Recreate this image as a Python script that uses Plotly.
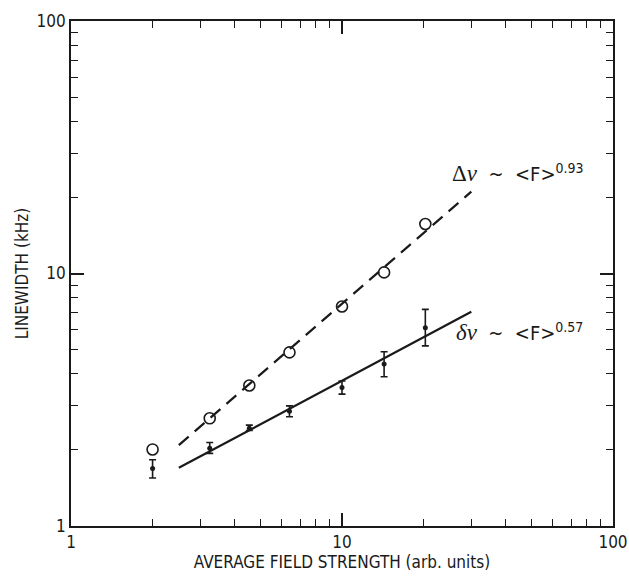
import plotly.graph_objects as go

# Average field strength (arb. units) for each measurement
field = [2.0, 3.25, 4.55, 6.4, 10.0, 14.3, 20.3]

# Open circles: total linewidth Δν (kHz)
delta_nu_total = [2.01, 2.67, 3.6, 4.87, 7.4, 10.1, 15.7]

# Filled points: homogeneous linewidth δν (kHz) with asymmetric error bars
delta_nu_hom = [1.69, 2.03, 2.44, 2.85, 3.54, 4.38, 6.10]
err_plus = [0.14, 0.11, 0.07, 0.14, 0.21, 0.52, 1.11]
err_minus = [0.14, 0.09, 0.05, 0.14, 0.21, 0.48, 0.93]

# Power-law fit lines (end points)
fit_x = [2.5, 30.0]
fit_total = [2.09, 21.1]
fit_hom = [1.70, 7.05]

FONT = "DejaVu Sans Condensed, Liberation Sans Narrow, sans-serif"
SERIF = "Liberation Serif, DejaVu Serif, serif"
INK = "#1a1a1a"

fig = go.Figure()

fig.add_trace(go.Scatter(
    x=fit_x, y=fit_total, mode="lines",
    line=dict(color=INK, width=2.2, dash="13px,8px"),
    showlegend=False, hoverinfo="skip",
))
fig.add_trace(go.Scatter(
    x=fit_x, y=fit_hom, mode="lines",
    line=dict(color=INK, width=2.2),
    showlegend=False, hoverinfo="skip",
))
fig.add_trace(go.Scatter(
    x=field, y=delta_nu_total, mode="markers",
    marker=dict(symbol="circle-open", size=11, color=INK, line=dict(width=1.6)),
    showlegend=False,
))
fig.add_trace(go.Scatter(
    x=field, y=delta_nu_hom, mode="markers",
    marker=dict(symbol="circle", size=5, color=INK),
    error_y=dict(type="data", array=err_plus, arrayminus=err_minus,
                 color=INK, thickness=1.6, width=3.5),
    showlegend=False,
))

axis_common = dict(
    type="log", dtick=1, showgrid=False, zeroline=False, automargin=False,
    showline=True, linecolor=INK, linewidth=1.8, mirror="allticks",
    ticks="inside", ticklen=13, tickwidth=1.5, tickcolor=INK,
    minor=dict(ticks="inside", ticklen=7, tickwidth=1.4, tickcolor=INK,
               dtick="D1", showgrid=False),
    tickfont=dict(family=FONT, size=17, color=INK),
)

fig.update_xaxes(
    range=[0, 2], title=dict(text="AVERAGE FIELD STRENGTH (arb. units)",
                             font=dict(family=FONT, size=17, color=INK), standoff=0),
    **axis_common,
)
fig.update_yaxes(
    range=[0, 2], title=dict(text="LINEWIDTH (kHz)",
                             font=dict(family=FONT, size=17, color=INK), standoff=4),
    **axis_common,
)

fig.add_annotation(
    xref="paper", yref="paper", x=0.700, y=0.70, xanchor="left", yanchor="middle",
    text=f"<span style='font-family:{SERIF};font-size:23px'>Δ<i>ν</i></span>  ~  &lt;F&gt;<sup>0.93</sup>",
    showarrow=False, font=dict(family=FONT, size=20, color=INK),
)
fig.add_annotation(
    xref="paper", yref="paper", x=0.707, y=0.384, xanchor="left", yanchor="middle",
    text=f"<span style='font-family:{SERIF};font-size:23px'><i>δν</i></span>  ~  &lt;F&gt;<sup>0.57</sup>",
    showarrow=False, font=dict(family=FONT, size=20, color=INK),
)

fig.update_layout(
    width=629, height=577,
    margin=dict(l=71, r=16, t=21, b=51),
    paper_bgcolor="white", plot_bgcolor="white",
    font=dict(family=FONT, color=INK),
)

fig.write_html("out.html")
